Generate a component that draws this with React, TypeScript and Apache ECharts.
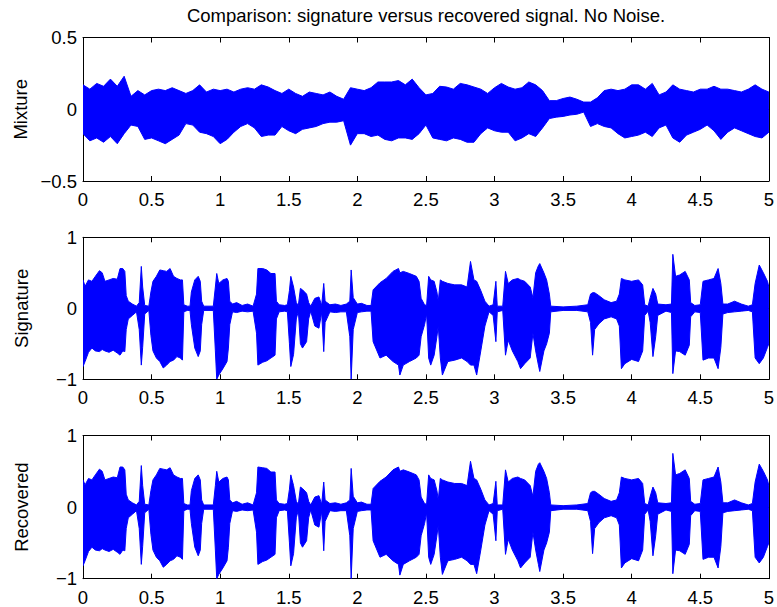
import React, { useEffect, useRef } from "react";
import * as echarts from "echarts";

// ---------- Data ----------
// Mixture: envelope sampled every 0.05 s from 0 to 5 s
const MIX_STEP = 0.05;
const MIX_UP = [
  0.17, 0.14, 0.18, 0.16, 0.21, 0.16, 0.23, 0.09, 0.13, 0.1,
  0.13, 0.14, 0.13, 0.15, 0.13, 0.11, 0.13, 0.17, 0.12, 0.14,
  0.13, 0.14, 0.12, 0.14, 0.15, 0.14, 0.17, 0.155, 0.13, 0.11,
  0.14, 0.11, 0.09, 0.12, 0.11, 0.1, 0.12, 0.09, 0.07, 0.15,
  0.14, 0.13, 0.15, 0.19, 0.19, 0.19, 0.2, 0.17, 0.21, 0.15,
  0.1, 0.11, 0.16, 0.155, 0.14, 0.18, 0.17, 0.155, 0.14, 0.11,
  0.15, 0.18, 0.155, 0.14, 0.15, 0.19, 0.17, 0.13, 0.06, 0.06,
  0.075, 0.085, 0.07, 0.05, 0.05, 0.08, 0.13, 0.14, 0.13, 0.14,
  0.17, 0.17, 0.14, 0.18, 0.1, 0.12, 0.17, 0.14, 0.13, 0.12,
  0.14, 0.14, 0.16, 0.14, 0.14, 0.13, 0.12, 0.14, 0.17, 0.14,
  0.12,
];
const MIX_LO = [
  -0.17, -0.22, -0.2, -0.23, -0.19, -0.24, -0.17, -0.11, -0.12, -0.21,
  -0.2, -0.22, -0.24, -0.21, -0.18, -0.1, -0.11, -0.16, -0.17, -0.19,
  -0.24, -0.21, -0.16, -0.12, -0.1, -0.13, -0.19, -0.18, -0.18, -0.12,
  -0.15, -0.17, -0.14, -0.13, -0.12, -0.1, -0.09, -0.09, -0.08, -0.25,
  -0.17, -0.17, -0.19, -0.18, -0.21, -0.22, -0.2, -0.2, -0.21, -0.17,
  -0.11, -0.2, -0.21, -0.22, -0.2, -0.21, -0.23, -0.23, -0.17, -0.13,
  -0.15, -0.16, -0.16, -0.22, -0.2, -0.17, -0.19, -0.13, -0.065, -0.055,
  -0.05, -0.04, -0.035, -0.02, -0.12, -0.1, -0.12, -0.13, -0.17, -0.2,
  -0.19, -0.18, -0.16, -0.19, -0.13, -0.11, -0.2, -0.23, -0.18, -0.16,
  -0.14, -0.11, -0.15, -0.21, -0.16, -0.13, -0.15, -0.17, -0.19, -0.2,
  -0.16,
];

// Signature: envelope at breakpoints (seconds)
const SIG_T = [
  0, 0.015, 0.04, 0.065, 0.09, 0.12, 0.14, 0.16, 0.19, 0.22,
  0.25, 0.27, 0.29, 0.305, 0.315, 0.33, 0.36, 0.39, 0.41, 0.425,
  0.435, 0.45, 0.48, 0.495, 0.51, 0.535, 0.56, 0.585, 0.61, 0.635,
  0.66, 0.685, 0.71, 0.725, 0.735, 0.76, 0.78, 0.79, 0.815, 0.84,
  0.855, 0.865, 0.88, 0.95, 0.965, 0.975, 0.99, 1.02, 1.05, 1.06,
  1.07, 1.09, 1.12, 1.16, 1.2, 1.24, 1.265, 1.275, 1.31, 1.34,
  1.37, 1.4, 1.41, 1.43, 1.47, 1.49, 1.505, 1.515, 1.535, 1.555,
  1.57, 1.585, 1.6, 1.63, 1.645, 1.66, 1.69, 1.72, 1.74, 1.755,
  1.765, 1.8, 1.84, 1.88, 1.92, 1.945, 1.955, 1.97, 2.0, 2.03,
  2.07, 2.1, 2.115, 2.165, 2.21, 2.26, 2.3, 2.31, 2.335, 2.38,
  2.43, 2.45, 2.465, 2.49, 2.505, 2.52, 2.535, 2.56, 2.58, 2.59,
  2.605, 2.62, 2.66, 2.71, 2.76, 2.8, 2.825, 2.85, 2.87, 2.9,
  2.93, 2.96, 2.99, 3.01, 3.02, 3.06, 3.08, 3.1, 3.13, 3.17,
  3.19, 3.22, 3.26, 3.28, 3.3, 3.32, 3.33, 3.36, 3.38, 3.4,
  3.41, 3.5, 3.6, 3.68, 3.7, 3.715, 3.73, 3.76, 3.8, 3.85,
  3.89, 3.91, 3.925, 3.95, 4.0, 4.05, 4.08, 4.095, 4.12, 4.135,
  4.155, 4.175, 4.19, 4.25, 4.29, 4.3, 4.32, 4.35, 4.39, 4.42,
  4.43, 4.46, 4.5, 4.52, 4.56, 4.6, 4.63, 4.65, 4.665, 4.7,
  4.75, 4.8, 4.85, 4.88, 4.9, 4.93, 4.96, 4.99, 5.0,
];
const SIG_UP = [
  0.4, 0.31, 0.4, 0.38, 0.45, 0.53, 0.5, 0.38, 0.4, 0.42,
  0.41, 0.56, 0.56, 0.52, 0.18, 0.1, 0.06, 0.03, 0.08, 0.59,
  0.3, 0.04, 0.03, 0.23, 0.38, 0.45, 0.54, 0.53, 0.52, 0.56,
  0.45, 0.42, 0.4, 0.4, 0.05, 0.03, 0.03, 0.23, 0.4, 0.45,
  0.38, 0.1, 0.03, 0.03, 0.3, 0.49, 0.35, 0.4, 0.42, 0.38,
  0.1, 0.06, 0.08, 0.04, 0.06, 0.03, 0.2, 0.56, 0.56, 0.54,
  0.49, 0.49, 0.1, 0.05, 0.04, 0.05, 0.25, 0.45, 0.3, 0.08,
  0.04, 0.28, 0.26, 0.2, 0.08, 0.03, 0.14, 0.16, 0.04, 0.35,
  0.1, 0.05, 0.06, 0.04, 0.06, 0.1, 0.54, 0.15, 0.06, 0.07,
  0.04, 0.04, 0.26, 0.36, 0.42, 0.52, 0.56, 0.5, 0.52, 0.49,
  0.45, 0.38, 0.14, 0.05, 0.04, 0.45, 0.4, 0.38, 0.23, 0.1,
  0.4, 0.38, 0.35, 0.33, 0.33, 0.3, 0.66, 0.4, 0.38, 0.25,
  0.1, 0.03, 0.05, 0.38, 0.03, 0.03, 0.52, 0.35, 0.4, 0.42,
  0.4, 0.38, 0.3, 0.15, 0.5, 0.6, 0.63, 0.5, 0.4, 0.2,
  0.03, 0.02, 0.03, 0.05, 0.2, 0.22, 0.22, 0.18, 0.12, 0.08,
  0.1, 0.2, 0.42, 0.4, 0.38, 0.4, 0.33, 0.05, 0.03, 0.15,
  0.28, 0.2, 0.06, 0.05, 0.06, 0.76, 0.45, 0.47, 0.52, 0.4,
  0.08, 0.04, 0.05, 0.38, 0.4, 0.42, 0.56, 0.35, 0.06, 0.06,
  0.1, 0.06, 0.03, 0.05, 0.35, 0.61, 0.5, 0.38, 0.3,
];
const SIG_LO = [
  -0.82, -0.75, -0.62, -0.56, -0.6, -0.61, -0.58, -0.6, -0.62, -0.59,
  -0.63, -0.66, -0.6, -0.61, -0.3, -0.15, -0.1, -0.05, -0.3, -0.8,
  -0.55, -0.08, -0.03, -0.38, -0.6, -0.7, -0.75, -0.84, -0.8, -0.75,
  -0.73, -0.68, -0.7, -0.73, -0.05, -0.03, -0.03, -0.23, -0.56, -0.68,
  -0.6, -0.23, -0.03, -0.03, -0.6, -1.0, -0.94, -0.85, -0.75, -0.56,
  -0.23, -0.05, -0.06, -0.04, -0.05, -0.04, -0.35, -0.8, -0.76, -0.74,
  -0.7, -0.66, -0.15, -0.05, -0.04, -0.05, -0.5, -0.82, -0.65, -0.15,
  -0.04, -0.5, -0.56, -0.47, -0.15, -0.04, -0.25, -0.28, -0.06, -0.61,
  -0.2, -0.05, -0.06, -0.05, -0.05, -0.4, -1.0, -0.3, -0.06, -0.05,
  -0.04, -0.04, -0.47, -0.7, -0.66, -0.75, -0.8, -0.94, -0.8, -0.75,
  -0.7, -0.66, -0.4, -0.23, -0.08, -0.7, -0.8, -0.66, -0.4, -0.25,
  -0.7, -0.94, -0.75, -0.73, -0.7, -0.75, -0.8, -0.8, -0.94, -0.6,
  -0.25, -0.05, -0.1, -0.47, -0.05, -0.03, -0.66, -0.45, -0.6, -0.75,
  -0.85, -0.78, -0.7, -0.35, -0.6, -0.8, -0.89, -0.6, -0.5, -0.35,
  -0.05, -0.03, -0.03, -0.05, -0.2, -0.66, -0.3, -0.22, -0.15, -0.12,
  -0.15, -0.25, -0.85, -0.78, -0.72, -0.75, -0.6, -0.1, -0.04, -0.2,
  -0.68, -0.4, -0.1, -0.04, -0.06, -0.92, -0.6, -0.61, -0.66, -0.52,
  -0.12, -0.05, -0.06, -0.73, -0.7, -0.7, -0.85, -0.55, -0.08, -0.06,
  -0.05, -0.04, -0.03, -0.05, -0.7, -0.78, -0.7, -0.55, -0.5,
];

// Recovered: envelope at breakpoints (seconds)
const REC_T = SIG_T.slice();
const REC_UP = [
  0.38, 0.31, 0.4, 0.38, 0.45, 0.53, 0.5, 0.38, 0.4, 0.42,
  0.41, 0.56, 0.56, 0.52, 0.18, 0.1, 0.06, 0.03, 0.08, 0.58,
  0.3, 0.04, 0.03, 0.23, 0.38, 0.45, 0.54, 0.53, 0.52, 0.55,
  0.45, 0.42, 0.4, 0.4, 0.05, 0.03, 0.03, 0.23, 0.4, 0.45,
  0.38, 0.1, 0.03, 0.03, 0.3, 0.5, 0.35, 0.4, 0.42, 0.38,
  0.1, 0.06, 0.08, 0.04, 0.06, 0.03, 0.2, 0.56, 0.55, 0.54,
  0.49, 0.49, 0.1, 0.05, 0.04, 0.05, 0.25, 0.45, 0.3, 0.08,
  0.04, 0.28, 0.26, 0.2, 0.08, 0.03, 0.14, 0.16, 0.04, 0.35,
  0.1, 0.05, 0.06, 0.04, 0.06, 0.1, 0.54, 0.15, 0.06, 0.07,
  0.04, 0.04, 0.26, 0.36, 0.42, 0.52, 0.56, 0.5, 0.52, 0.49,
  0.45, 0.38, 0.14, 0.05, 0.04, 0.45, 0.4, 0.38, 0.23, 0.1,
  0.4, 0.38, 0.35, 0.33, 0.33, 0.3, 0.64, 0.4, 0.38, 0.25,
  0.1, 0.03, 0.05, 0.36, 0.03, 0.03, 0.52, 0.35, 0.4, 0.42,
  0.4, 0.38, 0.3, 0.15, 0.5, 0.6, 0.62, 0.5, 0.4, 0.2,
  0.03, 0.02, 0.03, 0.05, 0.2, 0.22, 0.22, 0.18, 0.12, 0.08,
  0.1, 0.2, 0.42, 0.4, 0.38, 0.4, 0.33, 0.05, 0.03, 0.15,
  0.28, 0.2, 0.06, 0.05, 0.06, 0.75, 0.45, 0.47, 0.52, 0.4,
  0.08, 0.04, 0.05, 0.38, 0.4, 0.42, 0.56, 0.35, 0.06, 0.06,
  0.1, 0.06, 0.03, 0.05, 0.35, 0.6, 0.5, 0.38, 0.3,
];
const REC_LO = [
  -0.82, -0.75, -0.62, -0.56, -0.6, -0.61, -0.58, -0.6, -0.62, -0.59,
  -0.63, -0.66, -0.6, -0.61, -0.3, -0.15, -0.1, -0.05, -0.3, -0.8,
  -0.55, -0.08, -0.03, -0.38, -0.6, -0.7, -0.75, -0.84, -0.8, -0.75,
  -0.73, -0.68, -0.7, -0.73, -0.05, -0.03, -0.03, -0.23, -0.56, -0.68,
  -0.6, -0.23, -0.03, -0.03, -0.6, -1.0, -0.94, -0.85, -0.75, -0.56,
  -0.23, -0.05, -0.06, -0.04, -0.05, -0.04, -0.35, -0.8, -0.76, -0.74,
  -0.7, -0.66, -0.15, -0.05, -0.04, -0.05, -0.5, -0.82, -0.65, -0.15,
  -0.04, -0.5, -0.56, -0.47, -0.15, -0.04, -0.25, -0.28, -0.06, -0.61,
  -0.2, -0.05, -0.06, -0.05, -0.05, -0.4, -1.0, -0.3, -0.06, -0.05,
  -0.04, -0.04, -0.47, -0.7, -0.66, -0.75, -0.8, -0.95, -0.8, -0.75,
  -0.7, -0.66, -0.4, -0.23, -0.08, -0.7, -0.8, -0.66, -0.4, -0.25,
  -0.7, -0.94, -0.75, -0.73, -0.7, -0.75, -0.8, -0.8, -0.93, -0.6,
  -0.25, -0.05, -0.1, -0.47, -0.05, -0.03, -0.66, -0.45, -0.6, -0.75,
  -0.85, -0.78, -0.7, -0.35, -0.6, -0.8, -0.9, -0.6, -0.5, -0.35,
  -0.05, -0.03, -0.03, -0.05, -0.2, -0.65, -0.3, -0.22, -0.15, -0.12,
  -0.15, -0.25, -0.85, -0.78, -0.72, -0.75, -0.6, -0.1, -0.04, -0.2,
  -0.68, -0.4, -0.1, -0.04, -0.06, -0.93, -0.6, -0.61, -0.66, -0.52,
  -0.12, -0.05, -0.06, -0.73, -0.7, -0.7, -0.85, -0.55, -0.08, -0.06,
  -0.05, -0.04, -0.03, -0.05, -0.7, -0.78, -0.7, -0.55, -0.5,
];

const TITLE = "Comparison: signature versus recovered signal. No Noise.";
const PANEL_NAMES = ["Mixture", "Signature", "Recovered"];
const Y_RANGES = [
  [-0.5, 0.5, 0.5],
  [-1, 1, 1],
  [-1, 1, 1],
];
const X_MIN = 0;
const X_MAX = 5;
const X_INTERVAL = 0.5;

// ---------- Layout / style ----------
const FONT = '"Liberation Sans", Arial, Helvetica, sans-serif';
const FS = 18.5;
const BLUE = "#0000ff";
const GRID_LEFT = 83;
const GRID_WIDTH = 686;
const GRID_TOPS = [37.5, 237.3, 435.5];
const GRID_HEIGHTS = [143.5, 142, 143.2];

export default function App() {
  const ref = useRef<HTMLDivElement>(null);

  useEffect(() => {
    document.body.style.margin = "0";
    if (!ref.current) return;
    const chart = echarts.init(ref.current, undefined, { renderer: "svg" });

    const mixT = MIX_UP.map((_, i) => +(i * MIX_STEP).toFixed(3));
    const panelData = [
      { t: mixT, up: MIX_UP, lo: MIX_LO },
      { t: SIG_T, up: SIG_UP, lo: SIG_LO },
      { t: REC_T, up: REC_UP, lo: REC_LO },
    ];

    const minus = (v: number) => String(v).replace("-", "\u2212");

    const grids: any[] = [];
    const xAxes: any[] = [];
    const yAxes: any[] = [];
    const series: any[] = [];

    PANEL_NAMES.forEach((name, i) => {
      grids.push({
        left: GRID_LEFT,
        top: GRID_TOPS[i],
        width: GRID_WIDTH,
        height: GRID_HEIGHTS[i],
        containLabel: false,
      });
      const axisBase = {
        gridIndex: i,
        type: "value",
        axisLine: { show: true, onZero: false, lineStyle: { color: "#000", width: 1 } },
        axisTick: { show: true, inside: true, length: 5, lineStyle: { color: "#000", width: 1 } },
        splitLine: { show: false },
      };
      xAxes.push({
        ...axisBase,
        position: "bottom",
        min: X_MIN,
        max: X_MAX,
        interval: X_INTERVAL,
        axisLabel: { show: true, color: "#000", fontSize: FS, fontFamily: FONT, margin: 9, formatter: minus },
      });
      xAxes.push({
        ...axisBase,
        position: "top",
        min: X_MIN,
        max: X_MAX,
        interval: X_INTERVAL,
        axisLabel: { show: false },
      });
      const [ymin, ymax, yint] = Y_RANGES[i];
      yAxes.push({
        ...axisBase,
        position: "left",
        min: ymin,
        max: ymax,
        interval: yint,
        name,
        nameLocation: "middle",
        nameGap: 52,
        nameTextStyle: { color: "#000", fontSize: FS, fontFamily: FONT },
        axisLabel: { show: true, color: "#000", fontSize: FS, fontFamily: FONT, margin: 6, formatter: minus },
      });
      yAxes.push({
        ...axisBase,
        position: "right",
        min: ymin,
        max: ymax,
        interval: yint,
        axisLabel: { show: false },
      });

      const d = panelData[i];
      const n = Math.min(d.t.length, d.up.length, d.lo.length);
      const rows: number[][] = [];
      for (let j = 0; j < n; j++) rows.push([d.t[j], d.up[j], d.lo[j]]);

      series.push({
        type: "custom",
        name,
        xAxisIndex: 2 * i,
        yAxisIndex: 2 * i,
        data: rows,
        encode: { x: 0, y: [1, 2] },
        silent: true,
        clip: true,
        renderItem: (params: any, api: any) => {
          if (params.dataIndex !== 0) return null;
          const pts: number[][] = [];
          for (let j = 0; j < rows.length; j++) pts.push(api.coord([rows[j][0], rows[j][1]]));
          for (let j = rows.length - 1; j >= 0; j--) pts.push(api.coord([rows[j][0], rows[j][2]]));
          return {
            type: "polygon",
            shape: { points: pts },
            style: { fill: BLUE, stroke: BLUE, lineWidth: 1, lineJoin: "miter" },
          };
        },
      });
    });

    chart.setOption({
      animation: false,
      backgroundColor: "#fff",
      grid: grids,
      xAxis: xAxes,
      yAxis: yAxes,
      series,
      graphic: [
        {
          type: "text",
          x: 426,
          y: 6,
          style: {
            text: TITLE,
            fill: "#000",
            fontSize: FS,
            fontFamily: FONT,
            align: "center",
            verticalAlign: "top",
          },
        },
      ],
    });

    return () => {
      chart.dispose();
    };
  }, []);

  return <div ref={ref} style={{ width: 777, height: 607 }} />;
}
